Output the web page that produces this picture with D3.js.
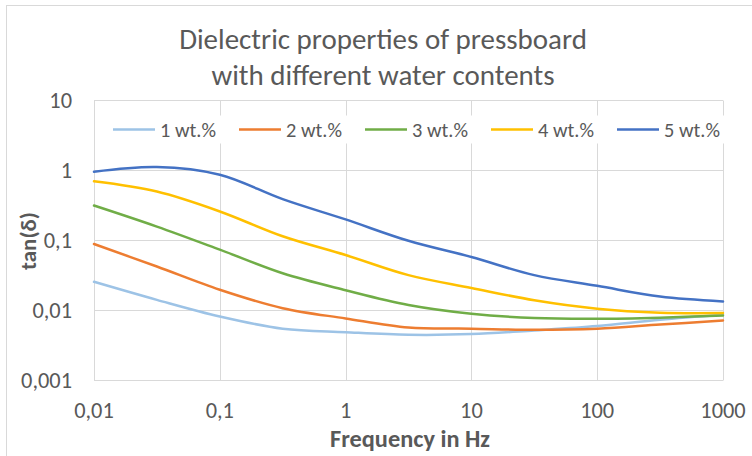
<!DOCTYPE html>
<html>
<head>
<meta charset="utf-8">
<script src="https://cdn.jsdelivr.net/npm/d3@7"></script>
<style>
  body { margin: 0; background: #fff; }
  text { font-family: Carlito, "Open Sans", "Liberation Sans", sans-serif; fill: #595959; }
</style>
</head>
<body>
<svg id="chart" width="752" height="456"></svg>
<script>
  // frequency points (Hz), half decades
  const freqs = [0.01, 0.0316, 0.1, 0.316, 1, 3.16, 10, 31.6, 100, 316, 1000];

  const wt1 = [0.0257, 0.0142, 0.0082, 0.0055, 0.0049, 0.0045, 0.0046, 0.0052, 0.006, 0.0074, 0.0087];
  const wt2 = [0.089, 0.0425, 0.0198, 0.0108, 0.0077, 0.0057, 0.0055, 0.0053, 0.0055, 0.0063, 0.0072];
  const wt3 = [0.316, 0.158, 0.074, 0.034, 0.0195, 0.012, 0.009, 0.0078, 0.0076, 0.0079, 0.0085];
  const wt4 = [0.70, 0.50, 0.26, 0.115, 0.062, 0.032, 0.021, 0.014, 0.0106, 0.0093, 0.0092];
  const wt5 = [0.96, 1.12, 0.87, 0.39, 0.20, 0.099, 0.058, 0.032, 0.0225, 0.0158, 0.0135];

  const seriesNames = ['1 wt.%', '2 wt.%', '3 wt.%', '4 wt.%', '5 wt.%'];
  const seriesValues = [wt1, wt2, wt3, wt4, wt5];
  const colors = ['#9dc3e6', '#ed7d31', '#70ad47', '#ffc000', '#4472c4'];

  const xTicks = [0.01, 0.1, 1, 10, 100, 1000];
  const xTickLabels = ['0,01', '0,1', '1', '10', '100', '1000'];
  const yTicks = [0.001, 0.01, 0.1, 1, 10];
  const yTickLabels = ['0,001', '0,01', '0,1', '1', '10'];

  const svg = d3.select('#chart');

  // fit the font size of a text so it spans the wanted width, returns size
  let fitFont = function (sel, width) {
    let len = sel.node().getComputedTextLength();
    let size = parseFloat(sel.style('font-size'));
    let newSize = size * width / len;
    sel.style('font-size', newSize + 'px');
    return newSize;
  };

  // chart area border (cropped on right/bottom)
  svg.append('rect')
    .attr('x', 6.5).attr('y', 5.5)
    .attr('width', 800).attr('height', 500)
    .attr('fill', '#fff')
    .attr('stroke', '#d9d9d9');

  const x = d3.scaleLog().domain([0.01, 1000]).range([94, 723]);
  const y = d3.scaleLog().domain([0.001, 10]).range([380.5, 100.5]);

  // gridlines
  svg.append('g').selectAll('line.v')
    .data(xTicks).join('line')
    .attr('x1', d => Math.round(x(d)) + 0.5).attr('x2', d => Math.round(x(d)) + 0.5)
    .attr('y1', y(10)).attr('y2', y(0.001))
    .attr('stroke', '#d9d9d9');

  svg.append('g').selectAll('line.h')
    .data(yTicks).join('line')
    .attr('x1', x(0.01)).attr('x2', x(1000))
    .attr('y1', d => y(d)).attr('y2', d => y(d))
    .attr('stroke', '#d9d9d9');

  // tick labels
  const yLab = svg.append('g').selectAll('text')
    .data(yTicks).join('text')
    .attr('x', 72)
    .attr('y', d => y(d))
    .attr('dy', '0.35em')
    .attr('text-anchor', 'end')
    .style('font-size', '19px')
    .text((d, i) => yTickLabels[i]);
  let tickSize = fitFont(d3.select(yLab.nodes()[0]), 51);
  yLab.style('font-size', tickSize + 'px');

  svg.append('g').selectAll('text')
    .data(xTicks).join('text')
    .attr('x', d => x(d))
    .attr('y', 418)
    .attr('text-anchor', 'middle')
    .style('font-size', tickSize + 'px')
    .text((d, i) => xTickLabels[i]);

  // lines
  const line = d3.line()
    .x((d, i) => x(freqs[i]))
    .y(d => y(d))
    .curve(d3.curveCatmullRom.alpha(0.5));

  svg.append('g').selectAll('path')
    .data(seriesValues).join('path')
    .attr('d', d => line(d))
    .attr('fill', 'none')
    .attr('stroke', (d, i) => colors[i])
    .attr('stroke-width', 2.5)
    .attr('stroke-linecap', 'round');

  // legend
  const legend = svg.append('g').selectAll('g')
    .data(seriesNames).join('g')
    .attr('transform', (d, i) => 'translate(' + (113 + i * 126) + ',129.5)');

  legend.append('rect')
    .attr('x', -4).attr('y', -14).attr('width', 118).attr('height', 28)
    .attr('fill', '#fff');

  legend.append('line')
    .attr('x1', 0).attr('x2', 42)
    .attr('stroke', (d, i) => colors[i])
    .attr('stroke-width', 2.5);

  const legText = legend.append('text')
    .attr('x', 47)
    .attr('dy', '0.35em')
    .style('font-size', '18px')
    .text(d => d);
  let legSize = fitFont(d3.select(legText.nodes()[0]), 56);
  legText.style('font-size', legSize + 'px');

  // titles
  const t1 = svg.append('text')
    .attr('x', 383).attr('y', 49)
    .attr('text-anchor', 'middle')
    .style('font-size', '24px')
    .text('Dielectric properties of pressboard');
  fitFont(t1, 408);

  svg.append('text')
    .attr('x', 383).attr('y', 85)
    .attr('text-anchor', 'middle')
    .style('font-size', t1.style('font-size'))
    .text('with different water contents');

  const xt = svg.append('text')
    .attr('x', 410).attr('y', 447)
    .attr('text-anchor', 'middle')
    .style('font-size', '19px')
    .style('font-weight', 'bold')
    .text('Frequency in Hz');
  fitFont(xt, 160);

  const yt = svg.append('text')
    .attr('transform', 'translate(36,241) rotate(-90)')
    .attr('text-anchor', 'middle')
    .style('font-size', '19px')
    .style('font-weight', 'bold')
    .text('tan(δ)');
  fitFont(yt, 58);
</script>
</body>
</html>
